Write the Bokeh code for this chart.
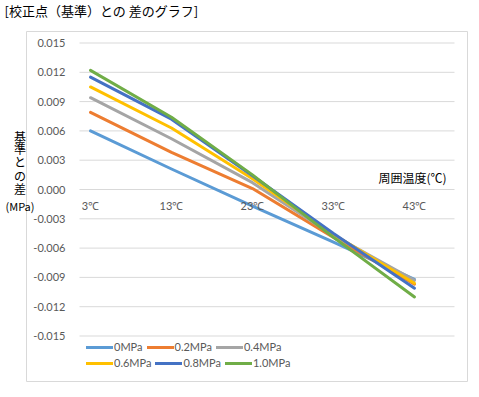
from bokeh.plotting import figure
from bokeh.models import ColumnDataSource, Range1d, Legend, LegendItem
from bokeh.core.properties import value
from bokeh.embed import file_html
from bokeh.resources import INLINE

# ---- data ----
temps = ["3℃", "13℃", "23℃", "33℃", "43℃"]
series_names = ["0MPa", "0.2MPa", "0.4MPa", "0.6MPa", "0.8MPa", "1.0MPa"]
s_00 = [0.0060, 0.0021, -0.0017, -0.0054, -0.0092]
s_02 = [0.0079, 0.0038, 0.0001, -0.0049, -0.0097]
s_04 = [0.0094, 0.0052, 0.0007, -0.0047, -0.0093]
s_06 = [0.0105, 0.0063, 0.0011, -0.0046, -0.0096]
s_08 = [0.0115, 0.0072, 0.0014, -0.0045, -0.0101]
s_10 = [0.0122, 0.0074, 0.0015, -0.0049, -0.0110]
y_ticks = [-0.015, -0.012, -0.009, -0.006, -0.003, 0.0, 0.003, 0.006, 0.009, 0.012, 0.015]
title_text = "[校正点（基準）との 差のグラフ]"
y_title_chars = ["基", "準", "と", "の", "差"]
y_title_unit = "(MPa)"
x_title = "周囲温度(℃)"

colors = ["#5B9BD5", "#ED7D31", "#A5A5A5", "#FFC000", "#4472C4", "#70AD47"]
series = [s_00, s_02, s_04, s_06, s_08, s_10]

idx = list(range(len(temps)))
src = ColumnDataSource(dict(x=idx, **{f"s{i}": s for i, s in enumerate(series)}))

# ---- layout: the frame fills the whole canvas ----
OX, OY = 1, 1                      # picture position of the canvas origin
W, H = 470, 390
X0_PAGE, DX = 91.0, 81.0           # picture x of first category, px per category
Y0_PAGE, KY = 190.0, 293.0 / 0.030  # picture y of zero, px per unit


def dx(px):  # picture x -> data x
    return (px - X0_PAGE) / DX


def dy(py):  # picture y -> data y
    return (Y0_PAGE - py) / KY


p = figure(width=W, height=H, output_backend="svg", toolbar_location=None,
           x_range=Range1d(dx(OX), dx(OX + W)), y_range=Range1d(dy(OY + H), dy(OY)),
           x_axis_location=None, y_axis_location=None, title=None,
           min_border_left=0, min_border_right=0, min_border_top=0, min_border_bottom=0)
p.outline_line_color = None
p.background_fill_color = "white"
p.border_fill_color = "white"
p.grid.visible = False

# chart border
p.quad(left=[dx(27)], right=[dx(468)], bottom=[dy(382)], top=[dy(32)],
       fill_color=None, line_color="#d9d9d9", line_width=1)

# horizontal gridlines
gl, gr = dx(80), dx(455)
p.segment(x0=[gl] * len(y_ticks), x1=[gr] * len(y_ticks), y0=y_ticks, y1=y_ticks,
          line_color="#d9d9d9", line_width=1)

# y tick labels
p.text(x=[gl] * len(y_ticks), y=y_ticks, text=[f"{t:.3f}" for t in y_ticks],
       text_align="right", text_baseline="middle", x_offset=-14,
       text_font=value("Lato"), text_font_size="11px", text_color="#595959")

# series lines
renderers = []
for i, (name, c) in enumerate(zip(series_names, colors)):
    r = p.line(x="x", y=f"s{i}", source=src, line_color=c, line_width=3,
               line_join="round", line_cap="round")
    renderers.append(r)

# category labels along the zero line
p.text(x=idx, y=[0.0] * len(idx), text=temps, text_align="center",
       text_baseline="middle", y_offset=16, text_font=value("Lato"),
       text_font_size="11px", text_color="#595959")


# legends: two rows (location = bottom-left offset from frame bottom-left)
def make_legend(names, rends, loc):
    return Legend(items=[LegendItem(label=n, renderers=[r]) for n, r in zip(names, rends)],
                  orientation="horizontal", location=loc,
                  glyph_width=27, glyph_height=10, label_height=10,
                  label_standoff=1, spacing=4, padding=0, margin=0,
                  border_line_color=None, background_fill_alpha=0,
                  label_text_font="Lato", label_text_font_size="11px",
                  label_text_color="#595959", label_text_baseline="middle")


bottom_page = OY + H
p.add_layout(make_legend(series_names[:3], renderers[:3], (87 - OX, bottom_page - 354)))
p.add_layout(make_legend(series_names[3:], renderers[3:], (87 - OX, bottom_page - 370)))

# title and axis titles
p.text(x=[dx(5)], y=[dy(11)], text=[title_text], text_align="left", text_baseline="middle",
       text_font=value("Noto Sans CJK JP"), text_font_size="13px", text_color="black")
p.text(x=[dx(447)], y=[dy(178)], text=[x_title], text_align="right", text_baseline="middle",
       text_font=value("Noto Sans CJK JP"), text_font_size="12px", text_color="black")
char_y = [137, 149, 162, 176, 189]
p.text(x=[dx(20.5)] * len(char_y), y=[dy(v) for v in char_y], text=y_title_chars,
       text_align="center", text_baseline="middle",
       text_font=value("Noto Sans CJK JP"), text_font_size="12px", text_color="black")
p.text(x=[dx(20.5)], y=[dy(206)], text=[y_title_unit], text_align="center",
       text_baseline="middle", text_font=value("Noto Sans CJK JP"),
       text_font_size="11px", text_color="black")

open("out.html", "w").write(file_html(p, INLINE))
